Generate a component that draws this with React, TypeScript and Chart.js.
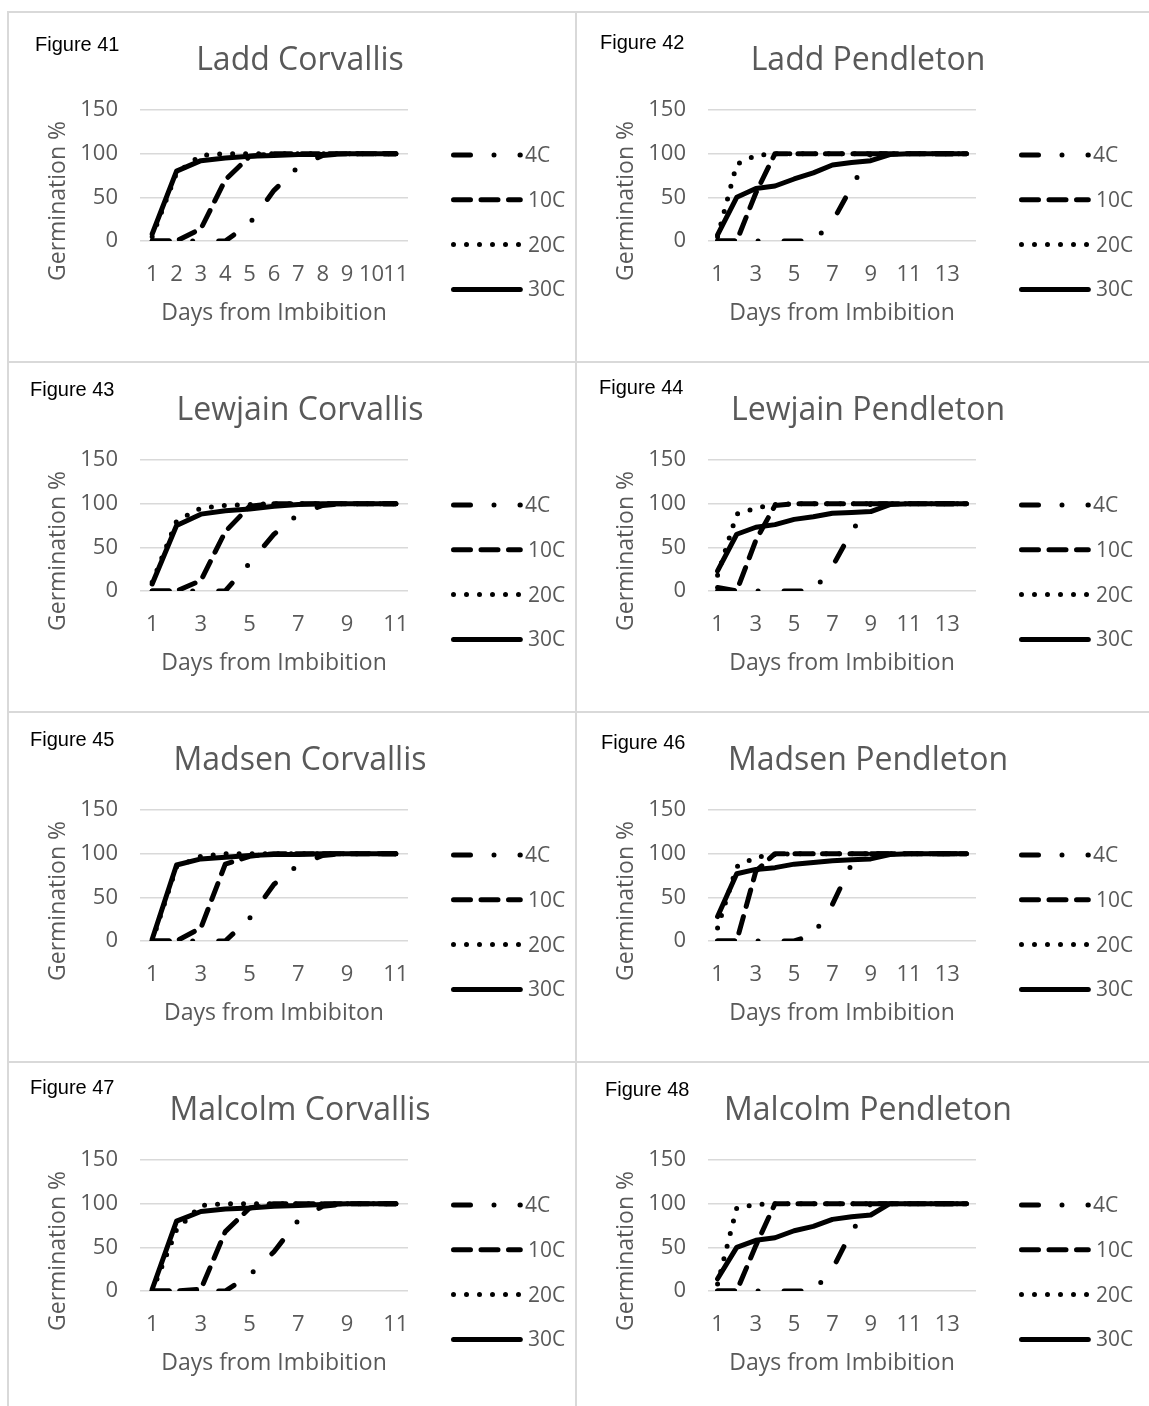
import React, { useEffect, useRef } from "react";
import { Chart, registerables } from "chart.js";

Chart.register(...registerables);

// ---------- categories / tick labels ----------
const corvallisDays = ["1", "2", "3", "4", "5", "6", "7", "8", "9", "10", "11"];
const pendletonDays = ["1", "2", "3", "4", "5", "6", "7", "8", "9", "10", "11", "12", "13", "14"];
const seriesNames = ["4C", "10C", "20C", "30C"];
const yTicks = [0, 50, 100, 150];

// ---------- Figure 41: Ladd Corvallis ----------
const laddCorvallis4C = [0, 0, 0, 0, 20, 58, 85, 98, 100, 100, 100];
const laddCorvallis10C = [0, 0, 14, 70, 97, 100, 100, 100, 100, 100, 100];
const laddCorvallis20C = [5, 78, 98, 100, 100, 100, 100, 100, 100, 100, 100];
const laddCorvallis30C = [8, 80, 92, 95, 97, 98, 99, 99, 100, 100, 100];

// ---------- Figure 42: Ladd Pendleton ----------
const laddPendleton4C = [0, 0, 0, 0, 0, 0, 22, 62, 100, 100, 100, 100, 100, 100];
const laddPendleton10C = [0, 0, 55, 100, 100, 100, 100, 100, 100, 100, 100, 100, 100, 100];
const laddPendleton20C = [5, 88, 98, 100, 100, 100, 100, 100, 100, 100, 100, 100, 100, 100];
const laddPendleton30C = [7, 50, 60, 63, 71, 78, 87, 90, 92, 99, 100, 100, 100, 100];

// ---------- Figure 43: Lewjain Corvallis ----------
const lewjainCorvallis4C = [0, 0, 0, 0, 32, 65, 88, 98, 100, 100, 100];
const lewjainCorvallis10C = [0, 0, 12, 68, 97, 100, 100, 100, 100, 100, 100];
const lewjainCorvallis20C = [10, 80, 95, 98, 99, 100, 100, 100, 100, 100, 100];
const lewjainCorvallis30C = [8, 75, 88, 92, 94, 97, 99, 100, 100, 100, 100];

// ---------- Figure 44: Lewjain Pendleton ----------
const lewjainPendleton4C = [0, 0, 0, 0, 0, 0, 28, 68, 100, 100, 100, 100, 100, 100];
const lewjainPendleton10C = [4, 0, 58, 98, 100, 100, 100, 100, 100, 100, 100, 100, 100, 100];
const lewjainPendleton20C = [18, 88, 95, 99, 100, 100, 100, 100, 100, 100, 100, 100, 100, 100];
const lewjainPendleton30C = [23, 65, 73, 76, 82, 85, 89, 90, 91, 99, 100, 100, 100, 100];

// ---------- Figure 45: Madsen Corvallis ----------
const madsenCorvallis4C = [0, 0, 0, 0, 26, 65, 87, 98, 100, 100, 100];
const madsenCorvallis10C = [0, 0, 15, 88, 97, 100, 100, 100, 100, 100, 100];
const madsenCorvallis20C = [0, 85, 97, 100, 100, 100, 100, 100, 100, 100, 100];
const madsenCorvallis30C = [2, 87, 94, 96, 98, 99, 99, 100, 100, 100, 100];

// ---------- Figure 46: Madsen Pendleton ----------
const madsenPendleton4C = [0, 0, 0, 0, 0, 7, 42, 88, 100, 100, 100, 100, 100, 100];
const madsenPendleton10C = [0, 0, 80, 100, 100, 100, 100, 100, 100, 100, 100, 100, 100, 100];
const madsenPendleton20C = [15, 85, 96, 99, 100, 100, 100, 100, 100, 100, 100, 100, 100, 100];
const madsenPendleton30C = [28, 77, 82, 84, 88, 90, 92, 93, 94, 99, 100, 100, 100, 100];

// ---------- Figure 47: Malcolm Corvallis ----------
const malcolmCorvallis4C = [0, 0, 0, 0, 18, 45, 81, 97, 100, 100, 100];
const malcolmCorvallis10C = [0, 0, 2, 68, 95, 100, 100, 100, 100, 100, 100];
const malcolmCorvallis20C = [0, 70, 98, 100, 100, 100, 100, 100, 100, 100, 100];
const malcolmCorvallis30C = [2, 80, 91, 94, 95, 97, 98, 99, 100, 100, 100];

// ---------- Figure 48: Malcolm Pendleton ----------
const malcolmPendleton4C = [0, 0, 0, 0, 0, 0, 25, 68, 100, 100, 100, 100, 100, 100];
const malcolmPendleton10C = [0, 0, 52, 100, 100, 100, 100, 100, 100, 100, 100, 100, 100, 100];
const malcolmPendleton20C = [8, 95, 99, 100, 100, 100, 100, 100, 100, 100, 100, 100, 100, 100];
const malcolmPendleton30C = [14, 50, 58, 61, 69, 74, 82, 85, 87, 100, 100, 100, 100, 100];

const figureLabels = ["Figure 41", "Figure 42", "Figure 43", "Figure 44", "Figure 45", "Figure 46", "Figure 47", "Figure 48"];
const chartTitles = [
  "Ladd Corvallis", "Ladd Pendleton",
  "Lewjain Corvallis", "Lewjain Pendleton",
  "Madsen Corvallis", "Madsen Pendleton",
  "Malcolm Corvallis", "Malcolm Pendleton",
];
const xAxisTitles = [
  "Days from Imbibition", "Days from Imbibition",
  "Days from Imbibition", "Days from Imbibition",
  "Days from Imbibiton", "Days from Imbibition",
  "Days from Imbibition", "Days from Imbibition",
];
const yAxisTitle = "Germination %";

const panels = [
  { days: corvallisDays, step: 1, series: [laddCorvallis4C, laddCorvallis10C, laddCorvallis20C, laddCorvallis30C] },
  { days: pendletonDays, step: 2, series: [laddPendleton4C, laddPendleton10C, laddPendleton20C, laddPendleton30C] },
  { days: corvallisDays, step: 2, series: [lewjainCorvallis4C, lewjainCorvallis10C, lewjainCorvallis20C, lewjainCorvallis30C] },
  { days: pendletonDays, step: 2, series: [lewjainPendleton4C, lewjainPendleton10C, lewjainPendleton20C, lewjainPendleton30C] },
  { days: corvallisDays, step: 2, series: [madsenCorvallis4C, madsenCorvallis10C, madsenCorvallis20C, madsenCorvallis30C] },
  { days: pendletonDays, step: 2, series: [madsenPendleton4C, madsenPendleton10C, madsenPendleton20C, madsenPendleton30C] },
  { days: corvallisDays, step: 2, series: [malcolmCorvallis4C, malcolmCorvallis10C, malcolmCorvallis20C, malcolmCorvallis30C] },
  { days: pendletonDays, step: 2, series: [malcolmPendleton4C, malcolmPendleton10C, malcolmPendleton20C, malcolmPendleton30C] },
];

// ---------- styles / layout ----------
const seriesDash = [[17, 23.5, 0, 26], [17, 10.5], [0, 13], []];
const seriesOrder = [3, 2, 1, 0];
const LINE_W = 5;
const GREY = "#595959";
const FONT = "'Open Sans', 'Noto Sans', sans-serif";
const FIG_FONT = "'Liberation Sans', Arial, sans-serif";
const colX = [7, 575];
const rowY = [11, 361, 711, 1061];
const CANVAS_W = 566;
const CANVAS_H = 348;
// figure label positions inside the canvas (x, baseline)
const figPos = [
  [26, 38], [23, 36],
  [21, 33], [22, 31],
  [21, 33], [24, 36],
  [21, 31], [28, 33],
];

const decorPlugin = {
  id: "excelDecor",
  afterDraw(chart: any, _args: any, opts: any) {
    const ctx = chart.ctx;
    ctx.save();
    // figure label
    ctx.fillStyle = "#000";
    ctx.font = `20px ${FIG_FONT}`;
    ctx.textAlign = "left";
    ctx.textBaseline = "alphabetic";
    ctx.fillText(opts.fig, opts.figX, opts.figY);
    // chart title
    ctx.fillStyle = GREY;
    ctx.font = `32px ${FONT}`;
    ctx.textAlign = "center";
    ctx.fillText(opts.title, 291, 57);
    // y axis title
    ctx.save();
    ctx.translate(49, 188);
    ctx.rotate(-Math.PI / 2);
    ctx.font = `23px ${FONT}`;
    ctx.textAlign = "center";
    ctx.textBaseline = "middle";
    ctx.fillText(opts.yTitle, 0, 0);
    ctx.restore();
    // legend
    chart.data.datasets.forEach((ds: any, i: number) => {
      const y = 142 + i * 44.8;
      ctx.save();
      ctx.beginPath();
      ctx.strokeStyle = ds.borderColor;
      ctx.lineWidth = ds.borderWidth;
      ctx.lineCap = "round";
      ctx.setLineDash(ds.borderDash || []);
      ctx.moveTo(444.5, y);
      ctx.lineTo(511.3, y);
      ctx.stroke();
      ctx.restore();
      ctx.fillStyle = GREY;
      ctx.font = `21px ${FONT}`;
      ctx.textAlign = "left";
      ctx.textBaseline = "middle";
      ctx.fillText(ds.label, i === 0 ? 516 : 519, y + 1);
    });
    ctx.restore();
  },
};

function buildConfig(idx: number): any {
  const p = panels[idx];
  return {
    type: "line",
    data: {
      labels: p.days,
      datasets: p.series.map((values, i) => ({
        label: seriesNames[i],
        data: values,
        borderColor: "#000000",
        backgroundColor: "#000000",
        borderWidth: LINE_W,
        borderDash: seriesDash[i],
        borderCapStyle: "round",
        borderJoinStyle: "round",
        pointRadius: 0,
        pointHoverRadius: 0,
        tension: 0,
        fill: false,
        order: seriesOrder[i],
      })),
    },
    options: {
      animation: false,
      responsive: false,
      devicePixelRatio: 1,
      events: [],
      layout: { padding: { left: 0, right: 167, top: 97, bottom: 34 } },
      plugins: {
        legend: { display: false },
        title: { display: false },
        tooltip: { enabled: false },
        excelDecor: {
          fig: figureLabels[idx],
          figX: figPos[idx][0],
          figY: figPos[idx][1],
          title: chartTitles[idx],
          yTitle: yAxisTitle,
        },
      },
      scales: {
        x: {
          type: "category",
          offset: true,
          grid: { display: false, drawTicks: false },
          border: { display: false },
          ticks: {
            autoSkip: false,
            maxRotation: 0,
            minRotation: 0,
            padding: 21,
            color: GREY,
            font: { family: FONT, size: 22 },
            callback: function (this: any, value: any, index: number) {
              return index % p.step === 0 ? this.getLabelForValue(value) : "";
            },
          },
          title: {
            display: true,
            text: xAxisTitles[idx],
            color: GREY,
            font: { family: FONT, size: 23 },
            padding: { top: 0, bottom: 0 },
          },
          afterFit: (scale: any) => {
            scale.height = 86;
          },
        },
        y: {
          min: yTicks[0],
          max: yTicks[yTicks.length - 1],
          grid: { color: "#d9d9d9", lineWidth: 1.5, drawTicks: false },
          border: { display: false },
          afterBuildTicks: (scale: any) => {
            scale.ticks = yTicks.map((v) => ({ value: v }));
          },
          ticks: {
            padding: 22,
            color: GREY,
            font: { family: FONT, size: 22 },
          },
          afterFit: (scale: any) => {
            scale.width = 131;
          },
        },
      },
    },
    plugins: [decorPlugin],
  };
}

function Panel({ idx }: { idx: number }) {
  const ref = useRef<HTMLCanvasElement | null>(null);
  useEffect(() => {
    if (!ref.current) return;
    const chart = new Chart(ref.current, buildConfig(idx));
    return () => chart.destroy();
  }, [idx]);
  const col = idx % 2;
  const row = Math.floor(idx / 2);
  return (
    <canvas
      ref={ref}
      width={CANVAS_W}
      height={CANVAS_H}
      style={{
        position: "absolute",
        left: colX[col] + 2,
        top: rowY[row] + 2,
        width: CANVAS_W,
        height: CANVAS_H,
      }}
    />
  );
}

const BORDER = "#d9d9d9";

export default function App() {
  return (
    <div style={{ position: "absolute", left: 0, top: 0, width: 1149, height: 1406, background: "#fff", overflow: "hidden" }}>
      {rowY.map((y) => (
        <div key={"h" + y} style={{ position: "absolute", left: 7, top: y, width: 1149 - 7, height: 2, background: BORDER }} />
      ))}
      {colX.map((x) => (
        <div key={"v" + x} style={{ position: "absolute", left: x, top: 11, width: 2, height: 1406 - 11, background: BORDER }} />
      ))}
      {panels.map((_, i) => (
        <Panel key={i} idx={i} />
      ))}
    </div>
  );
}
